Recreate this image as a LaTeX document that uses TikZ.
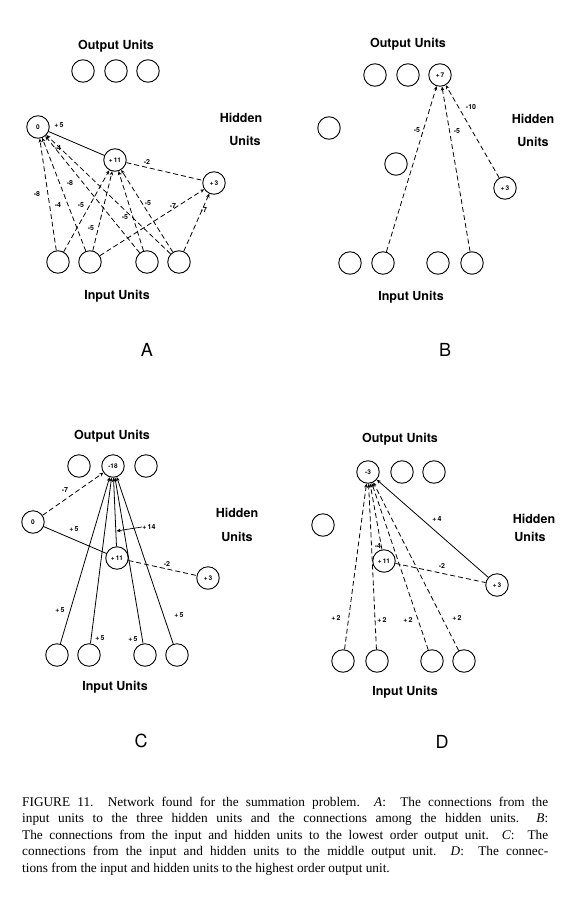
\documentclass[tikz,border=0pt]{standalone}
\usepackage{fontspec}
\setmainfont{Liberation Serif}
\newfontfamily\hv{TeX Gyre Heros}
\usetikzlibrary{arrows.meta}
\tikzset{
  unit/.style={circle, draw, line width=0.9pt, minimum size=22.5pt, inner sep=0pt,
    font=\hv\bfseries\fontsize{6.5}{7}\selectfont},
  lbl/.style={font=\hv\bfseries\fontsize{7}{8}\selectfont, inner sep=0.5pt},
  head/.style={font=\hv\bfseries\fontsize{12.5}{14}\selectfont, inner sep=0pt},
  panel/.style={font=\hv\fontsize{18}{20}\selectfont, inner sep=0pt},
  dsh/.style={line width=0.8pt, dash pattern=on 5pt off 3pt},
  sld/.style={line width=0.8pt},
  >={Stealth[length=4pt,width=3.5pt]}
}
\begin{document}
\begin{tikzpicture}[x=1pt,y=-1pt]
\useasboundingbox[fill=white] (0,0) rectangle (571,907);

% ================= Panel A =================
\node[head] (tA1) at (116,46) {Output Units};
\node[unit] (oA1) at (83,71) {};
\node[unit] (oA2) at (116,71) {};
\node[unit] (oA3) at (148,71) {};
\node[unit] (hA1) at (38,127) {0};
\node[unit] (hA2) at (115,160) {+\,11};
\node[unit] (hA3) at (214,183) {+\,3};
\node[unit] (iA1) at (58,262) {};
\node[unit] (iA2) at (90,262) {};
\node[unit] (iA3) at (147,262) {};
\node[unit] (iA4) at (179,262) {};
\node[head] (tA2) at (241,118) {Hidden};
\node[head] (tA3) at (245,141) {Units};
\node[head] (tA4) at (117,296) {Input Units};
\node[panel] (pA) at (147,350) {A};

\draw[sld] (hA1) -- (hA2);
\draw[dsh] (hA2) -- (hA3);
\draw[dsh,->] (iA1) -- (hA1);
\draw[dsh,->] (iA2) -- (hA1);
\draw[dsh,->] (iA3) -- (hA1);
\draw[dsh,->] (iA4) -- (hA1);
\draw[dsh,->] (iA1) -- (hA2);
\draw[dsh,->] (iA2) -- (hA2);
\draw[dsh,->] (iA3) -- (hA2);
\draw[dsh,->] (iA4) -- (hA2);
\draw[dsh,->] (iA2) -- (hA3);
\draw[dsh,->] (iA4) -- (hA3);

\node[lbl] (wA1) at (59,125) {+\,5};
\node[lbl] (wA2) at (147,162) {-2};
\node[lbl] (wA3) at (37,194) {-8};
\node[lbl] (wA4) at (58,205) {-4};
\node[lbl] (wA5) at (70,183) {-8};
\node[lbl] (wA6) at (58,148) {-4};
\node[lbl] (wA7) at (81,205) {-5};
\node[lbl] (wA8) at (91,228) {-5};
\node[lbl] (wA9) at (125,217) {-5};
\node[lbl] (wA10) at (148,203) {-5};
\node[lbl] (wA11) at (173,206) {-7};
\node[lbl] (wA12) at (204,210) {-7};

% ================= Panel B =================
\node[head] (tB1) at (408,44) {Output Units};
\node[unit] (oB1) at (375,75) {};
\node[unit] (oB2) at (408,75) {};
\node[unit] (oB3) at (440,75) {+\,7};
\node[unit] (hB1) at (329,128) {};
\node[unit] (hB2) at (396,164) {};
\node[unit] (hB3) at (505,188) {+\,3};
\node[unit] (iB1) at (350,263) {};
\node[unit] (iB2) at (383,263) {};
\node[unit] (iB3) at (438,263) {};
\node[unit] (iB4) at (472,263) {};
\node[head] (tB2) at (533,119) {Hidden};
\node[head] (tB3) at (533,142) {Units};
\node[head] (tB4) at (411,297) {Input Units};
\node[panel] (pB) at (445,350) {B};

\draw[dsh,->] (iB2) -- (oB3);
\draw[dsh,->] (iB4) -- (oB3);
\draw[dsh,->] (hB3) -- (oB3);
\node[lbl] (wB1) at (417,130) {-5};
\node[lbl] (wB2) at (457,131) {-5};
\node[lbl] (wB3) at (471,107) {-10};

% ================= Panel C =================
\node[head] (tC1) at (112,436) {Output Units};
\node[unit] (oC1) at (79,466) {};
\node[unit] (oC2) at (113,466) {-18};
\node[unit] (oC3) at (146,466) {};
\node[unit] (hC1) at (33,522) {0};
\node[unit] (hC2) at (117,558) {+\,11};
\node[unit] (hC3) at (208,578) {+\,3};
\node[unit] (iC1) at (57,655) {};
\node[unit] (iC2) at (89,655) {};
\node[unit] (iC3) at (145,655) {};
\node[unit] (iC4) at (177,655) {};
\node[head] (tC2) at (237,513) {Hidden};
\node[head] (tC3) at (237,537) {Units};
\node[head] (tC4) at (115,687) {Input Units};
\node[panel] (pC) at (141,741) {C};

\draw[dsh,->] (hC1) -- (oC2);
\draw[sld] (hC1) -- (hC2);
\draw[dsh] (hC2) -- (hC3);
\draw[sld,->] (hC2) -- (oC2);
\draw[sld,->] (iC1) -- (oC2);
\draw[sld,->] (iC2) -- (oC2);
\draw[sld,->] (iC3) -- (oC2);
\draw[sld,->] (iC4) -- (oC2);
\node[lbl] (wC1) at (65,490) {-7};
\node[lbl] (wC2) at (74,529) {+\,5};
\node[lbl] (wC3) at (167,564) {-2};
\node[lbl] (wC4) at (149,527) {+\,14};
\coordinate (cC14) at (116.5,531);
\draw[line width=0.7pt,->] (wC4.west) -- (cC14);
\node[lbl] (wC5) at (60,610) {+\,5};
\node[lbl] (wC6) at (100,638) {+\,5};
\node[lbl] (wC7) at (133,639) {+\,5};
\node[lbl] (wC8) at (179,615) {+\,5};

% ================= Panel D =================
\node[head] (tD1) at (400,439) {Output Units};
\node[unit] (oD1) at (368,472) {-3};
\node[unit] (oD2) at (402,472) {};
\node[unit] (oD3) at (434,472) {};
\node[unit] (hD1) at (323,525) {};
\node[unit] (hD2) at (384,561) {+\,11};
\node[unit] (hD3) at (497,585) {+\,3};
\node[unit] (iD1) at (343,661) {};
\node[unit] (iD2) at (377,661) {};
\node[unit] (iD3) at (432,661) {};
\node[unit] (iD4) at (464,661) {};
\node[head] (tD2) at (534,519) {Hidden};
\node[head] (tD3) at (530,537) {Units};
\node[head] (tD4) at (405,692) {Input Units};
\node[panel] (pD) at (442,742) {D};

\draw[sld,->] (hD3) -- (oD1);
\draw[dsh] (hD2) -- (hD3);
\draw[dsh,->] (hD2) -- (oD1);
\draw[dsh,->] (iD1) -- (oD1);
\draw[dsh,->] (iD2) -- (oD1);
\draw[dsh,->] (iD3) -- (oD1);
\draw[dsh,->] (iD4) -- (oD1);
\node[lbl] (wD1) at (437,519) {+\,4};
\node[lbl] (wD2) at (442,566) {-2};
\node[lbl] (wD3) at (378,546) {-4};
\node[lbl] (wD4) at (336,618) {+\,2};
\node[lbl] (wD5) at (382,620) {+\,2};
\node[lbl] (wD6) at (408,620) {+\,2};
\node[lbl] (wD7) at (457,618) {+\,2};

% ================= Caption =================
\node[anchor=north west, inner sep=0pt, text width=526pt, align=justify,
      font=\fontsize{13.3}{16.4}\selectfont] (cap) at (22,797)
{FIGURE 11.\ \ Network found for the summation problem.\ \ \textit{A}:\ \ The connections from the\linebreak
input units to the three hidden units and the connections among the hidden units.\ \ \textit{B}:\linebreak
The connections from the input and hidden units to the lowest order output unit.\ \ \textit{C}:\ \ The\linebreak
connections from the input and hidden units to the middle output unit.\ \ \textit{D}:\ \ The connec-\linebreak
tions from the input and hidden units to the highest order output unit.};
\end{tikzpicture}
\end{document}
